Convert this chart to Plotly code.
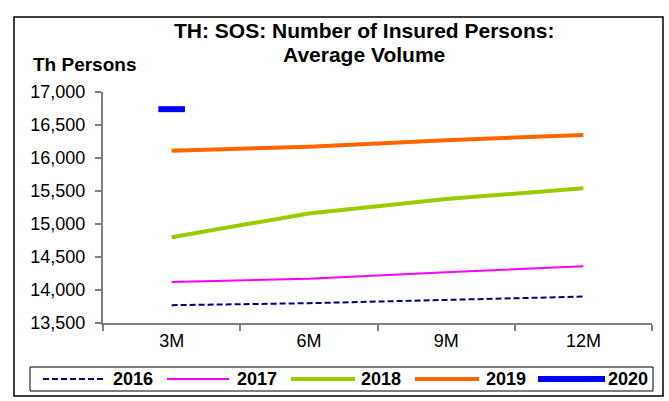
import plotly.graph_objects as go

# Datos
periodos = ["3M", "6M", "9M", "12M"]
v2016 = [13770, 13800, 13850, 13900]
v2017 = [14120, 14170, 14270, 14360]
v2018 = [14800, 15160, 15380, 15540]
v2019 = [16110, 16170, 16270, 16350]
v2020 = [16740, None, None, None]
y_ticks = [13500, 14000, 14500, 15000, 15500, 16000, 16500, 17000]
titulo = ["TH: SOS: Number of Insured Persons:", "Average Volume"]

W, H = 669, 401
L, R, T, B = 103, 17, 92, 78
pw, ph = W - L - R, H - T - B

def px_x(x):
    return (x - L) / pw

def px_y(y):
    return (H - B - y) / ph

series = [
    ("2016", v2016, dict(color="#000080", width=2, dash="6px,3px")),
    ("2017", v2017, dict(color="#FF00FF", width=2)),
    ("2018", v2018, dict(color="#99CC00", width=4)),
    ("2019", v2019, dict(color="#FF6600", width=4)),
]

fig = go.Figure()
for nombre, vals, estilo in series:
    fig.add_trace(go.Scatter(x=periodos, y=vals, mode="lines", name=nombre, line=estilo,
                             hoverinfo="skip"))
fig.add_trace(go.Scatter(x=periodos, y=v2020, mode="markers", name="2020", hoverinfo="skip",
                         marker=dict(symbol="line-ew-open", size=19, color="#0000FF",
                                     line=dict(color="#0000FF", width=6))))

font = "Liberation Sans, Arial, sans-serif"
fig.update_layout(
    width=W, height=H,
    margin=dict(l=L, r=R, t=T, b=B, autoexpand=False),
    paper_bgcolor="white", plot_bgcolor="white",
    font=dict(family=font, size=18, color="black"),
    showlegend=False,
    xaxis=dict(type="category", showgrid=False, showline=True, linecolor="#808080",
               linewidth=2, ticks="outside", tickson="boundaries", ticklen=6,
               tickcolor="#808080", tickwidth=2, range=[-0.5, 3.5],
               tickfont=dict(size=18, family=font)),
    yaxis=dict(range=[13500, 17000], tickvals=y_ticks, tickformat=",d",
               showgrid=False, showline=True, linecolor="#808080", linewidth=2,
               ticks="outside", ticklen=6, tickcolor="#808080", tickwidth=2,
               ticklabelstandoff=6,
               tickfont=dict(size=18, family=font), zeroline=False),
)

# Titulo en dos lineas (interlineado ajustado)
for linea, yc in zip(titulo, [31, 55]):
    fig.add_annotation(text="<b>" + linea + "</b>", xref="paper", yref="paper",
                       x=px_x(364), y=px_y(yc), xanchor="center", yanchor="middle",
                       showarrow=False, font=dict(size=21, family=font))

fig.add_annotation(text="<b>Th Persons</b>", xref="paper", yref="paper",
                   x=px_x(31), y=px_y(64), xanchor="left", yanchor="middle",
                   showarrow=False, font=dict(size=19, family=font))

# Marco exterior del grafico
fig.add_shape(type="rect", xref="paper", yref="paper",
              x0=px_x(14), x1=px_x(663), y0=px_y(396), y1=px_y(17),
              line=dict(color="black", width=1.5), fillcolor="rgba(0,0,0,0)")

# Leyenda dibujada a mano (caja + muestras de linea + texto)
fig.add_shape(type="rect", xref="paper", yref="paper",
              x0=px_x(30), x1=px_x(653), y0=px_y(391), y1=px_y(367),
              line=dict(color="black", width=1), fillcolor="white")
leyenda = [(43, 105, 111), (167, 229, 235), (291, 355, 359), (415, 479, 484), (538, 605, 606)]
estilos = [s[2] for s in series] + [dict(color="#0000FF", width=6)]
nombres = [s[0] for s in series] + ["2020"]
ly = px_y(379)
for (a, b, t), est, nombre in zip(leyenda, estilos, nombres):
    fig.add_shape(type="line", xref="paper", yref="paper", x0=px_x(a), x1=px_x(b),
                  y0=ly, y1=ly, line=est)
    fig.add_annotation(text="<b>" + nombre + "</b>", xref="paper", yref="paper",
                       x=px_x(t), y=ly, xanchor="left", yanchor="middle",
                       showarrow=False, font=dict(size=18, family=font))

fig.write_html("out.html", config={"displayModeBar": False},
               post_script="document.body.style.margin='0';")
